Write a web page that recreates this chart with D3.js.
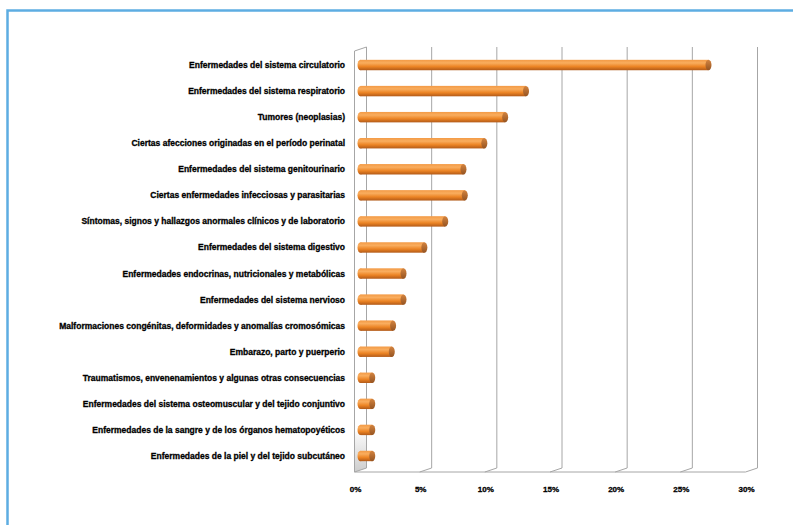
<!DOCTYPE html>
<html>
<head>
<meta charset="utf-8">
<script src="https://cdn.jsdelivr.net/npm/d3@7"></script>
<style>
  html, body { margin: 0; padding: 0; background: #fff; }
  svg { display: block; }
</style>
</head>
<body>
<svg id="chart" width="793" height="525"></svg>
<script>
const categories = [
  "Enfermedades del sistema circulatorio",
  "Enfermedades del sistema respiratorio",
  "Tumores (neoplasias)",
  "Ciertas afecciones originadas en el período perinatal",
  "Enfermedades del sistema genitourinario",
  "Ciertas enfermedades infecciosas y parasitarias",
  "Síntomas, signos y hallazgos anormales clínicos y de laboratorio",
  "Enfermedades del sistema digestivo",
  "Enfermedades endocrinas, nutricionales y metabólicas",
  "Enfermedades del sistema nervioso",
  "Malformaciones congénitas, deformidades y anomalías cromosómicas",
  "Embarazo, parto y puerperio",
  "Traumatismos, envenenamientos y algunas otras consecuencias",
  "Enfermedades del sistema osteomuscular y del tejido conjuntivo",
  "Enfermedades de la sangre y de los órganos hematopoyéticos",
  "Enfermedades de la piel y del tejido subcutáneo"
];
const values = [0.267, 0.127, 0.111, 0.095, 0.079, 0.080, 0.065, 0.049, 0.033, 0.033, 0.025, 0.024, 0.009, 0.009, 0.009, 0.009];
const tickValues = [0, 0.05, 0.10, 0.15, 0.20, 0.25, 0.30];
const tickLabels = ["0%", "5%", "10%", "15%", "20%", "25%", "30%"];

const svg = d3.select("#chart");

// outer frame
svg.append("rect")
  .attr("x", 7.5).attr("y", 10.5).attr("width", 820).attr("height", 600)
  .attr("fill", "none").attr("stroke", "#5dade2").attr("stroke-width", 2.5);

// geometry
const depthDx = 12, depthDy = -4;
const frontX = d3.scaleLinear().domain([0, 0.30]).range([354.5, 745.5]);
const backX = v => frontX(v) + depthDx;
const midX = v => frontX(v) + depthDx / 2;
const floorY = 472, topY = 51;

const y = d3.scaleBand().domain(categories).range([52, 469]).paddingInner(0.6).paddingOuter(0.3);

const defs = svg.append("defs");
// left wall base shading
const wallGrad = defs.append("linearGradient").attr("id", "wallg").attr("x1", 0).attr("y1", 0).attr("x2", 0).attr("y2", 1);
wallGrad.append("stop").attr("offset", "0%").attr("stop-color", "#ffffff");
wallGrad.append("stop").attr("offset", "100%").attr("stop-color", "#c4c4c4");
svg.append("path")
  .attr("d", `M${frontX(0)},${floorY - 40} L${backX(0)},${floorY - 40 + depthDy} L${backX(0)},${floorY + depthDy} L${frontX(0)},${floorY} Z`)
  .attr("fill", "url(#wallg)").attr("opacity", 0.85);

// back-wall gridlines
const grid = svg.append("g").attr("stroke", "#a6a6a6").attr("stroke-width", 1).attr("fill", "none");
tickValues.forEach(t => {
  grid.append("line")
    .attr("x1", backX(t)).attr("x2", backX(t))
    .attr("y1", topY + depthDy).attr("y2", floorY + depthDy);
  grid.append("line")
    .attr("x1", backX(t)).attr("x2", frontX(t))
    .attr("y1", floorY + depthDy).attr("y2", floorY);
});
grid.append("line")
  .attr("x1", frontX(0)).attr("x2", backX(0))
  .attr("y1", topY).attr("y2", topY + depthDy);
grid.append("line")
  .attr("x1", frontX(0)).attr("x2", frontX(0))
  .attr("y1", topY).attr("y2", floorY);
grid.append("line")
  .attr("x1", frontX(0)).attr("x2", frontX(0.30))
  .attr("y1", floorY).attr("y2", floorY);

// bars (cylinders)
const barGrad = defs.append("linearGradient").attr("id", "barg").attr("x1", 0).attr("y1", 0).attr("x2", 0).attr("y2", 1);
barGrad.append("stop").attr("offset", "0%").attr("stop-color", "#f39a45");
barGrad.append("stop").attr("offset", "30%").attr("stop-color", "#f9ad5e");
barGrad.append("stop").attr("offset", "65%").attr("stop-color", "#ec8424");
barGrad.append("stop").attr("offset", "100%").attr("stop-color", "#b25a18");

const capGrad = defs.append("linearGradient").attr("id", "capg").attr("x1", 0).attr("y1", 0).attr("x2", 0).attr("y2", 1);
capGrad.append("stop").attr("offset", "0%").attr("stop-color", "#d4843f");
capGrad.append("stop").attr("offset", "100%").attr("stop-color", "#955422");

const bh = y.bandwidth();
const bars = svg.append("g");
categories.forEach((c, i) => {
  const x0 = midX(0), x1 = midX(values[i]);
  const yc = y(c) + bh / 2;
  const rx = 3;
  bars.append("ellipse")
    .attr("cx", x0).attr("cy", yc).attr("rx", rx).attr("ry", bh / 2)
    .attr("fill", "url(#barg)");
  bars.append("rect")
    .attr("x", x0).attr("y", y(c)).attr("width", Math.max(0, x1 - x0)).attr("height", bh)
    .attr("fill", "url(#barg)");
  bars.append("ellipse")
    .attr("cx", x1).attr("cy", yc).attr("rx", rx).attr("ry", bh / 2)
    .attr("fill", "url(#capg)");
});

// category labels
svg.append("g")
  .selectAll("text").data(categories).join("text")
  .attr("x", 345)
  .attr("y", d => y(d) + bh / 2 + 3)
  .attr("text-anchor", "end")
  .attr("font-family", "'Liberation Sans', Arial, sans-serif")
  .attr("font-weight", "bold")
  .attr("font-size", "8.5px")
  .attr("fill", "#000")
  .attr("stroke", "#000").attr("stroke-width", 0.3)
  .text(d => d);

// x tick labels
svg.append("g")
  .selectAll("text").data(tickValues).join("text")
  .attr("x", d => frontX(d) + 1)
  .attr("y", 492)
  .attr("text-anchor", "middle")
  .attr("font-family", "'Liberation Sans', Arial, sans-serif")
  .attr("font-weight", "bold")
  .attr("font-size", "8px")
  .attr("fill", "#000")
  .attr("stroke", "#000").attr("stroke-width", 0.3)
  .text((d, i) => tickLabels[i]);
</script>
</body>
</html>
